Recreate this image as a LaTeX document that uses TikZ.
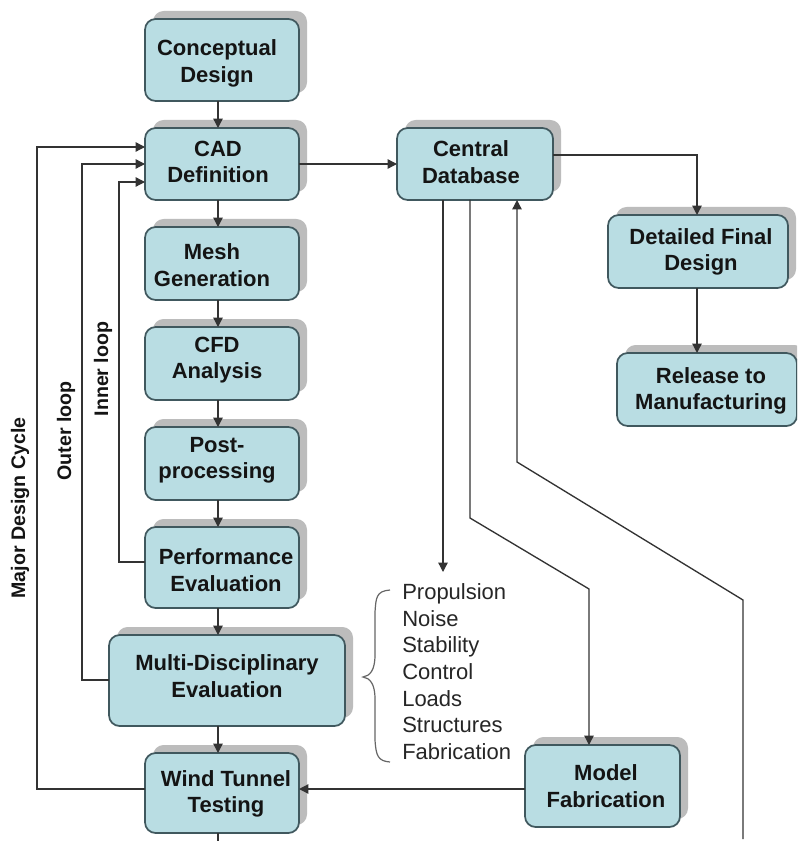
\documentclass[tikz,border=0pt]{standalone}
\usepackage{fontspec}
\setmainfont{Liberation Sans}
\usetikzlibrary{arrows.meta,calc}
\definecolor{boxfill}{HTML}{B9DDE3}
\definecolor{boxline}{HTML}{40585E}
\definecolor{shadowgrey}{HTML}{BCBCBC}
\definecolor{inkline}{HTML}{333333}
\tikzset{
  flowbox/.style={draw=boxline,fill=boxfill,line width=1.3pt,rounded corners=8pt,inner sep=0pt,outer sep=0pt},
  shadowbox/.style={fill=shadowgrey,rounded corners=8pt,inner sep=0pt,outer sep=0pt},
  boxtext/.style={font=\fontsize{16.5pt}{19.8pt}\selectfont\bfseries,align=center,text=black!92,inner sep=0pt},
  listtext/.style={font=\fontsize{16.5pt}{19.8pt}\selectfont,anchor=base west,text=black!85,inner sep=0pt},
  looptext/.style={font=\fontsize{14.7pt}{17pt}\selectfont\bfseries,rotate=90,text=black!92,inner sep=0pt},
  conn/.style={draw=inkline,line width=1pt},
  arrowed/.style={conn,-{Triangle[length=7pt,width=7pt]}},
}
% name, x1, y1, x2, y2, text x, text y, text
\newcommand{\flownode}[8]{%
  \node[shadowbox,minimum width={(#4-#2)*0.75pt},minimum height={(#5-#3)*0.75pt}] (#1s) at ({(#2+#4)/2+8},{(#3+#5)/2-8}) {};
  \node[flowbox,minimum width={(#4-#2)*0.75pt},minimum height={(#5-#3)*0.75pt}] (#1) at ({(#2+#4)/2},{(#3+#5)/2}) {};
  \node[boxtext] (#1t) at (#6,#7) {#8};
}
\begin{document}
\begin{tikzpicture}[x=0.75pt,y=-0.75pt]
\useasboundingbox (0,0) rectangle (797,841);
\fill[white] (0,0) rectangle (797,841);
\begin{scope}
\clip (0,0) rectangle (797,841);
\flownode{concept}{145}{19}{299}{101}{217}{63.5}{Conceptual\\Design}
\flownode{cad}{145}{128}{299}{200}{218}{162}{CAD\\Definition}
\flownode{mesh}{145}{227}{299}{300}{212}{265}{Mesh\\Generation}
\flownode{cfd}{145}{327}{299}{400}{217}{360}{CFD\\Analysis}
\flownode{post}{145}{427}{299}{500}{217}{460}{Post-\\processing}
\flownode{perf}{145}{527}{299}{608}{226}{570}{Performance\\Evaluation}
\flownode{multi}{109}{635}{345}{726}{227}{676}{Multi-Disciplinary\\Evaluation}
\flownode{wind}{145}{753}{299}{833}{226}{794}{Wind Tunnel\\Testing}
\flownode{central}{397}{128}{553}{200}{471}{162}{Central\\Database}
\flownode{detail}{608}{215}{788}{288}{701}{252}{Detailed Final\\Design}
\flownode{release}{617}{353}{797}{426}{711}{391}{Release to\\Manufacturing}
\flownode{model}{525}{745}{680}{827}{606}{786}{Model\\Fabrication}
\end{scope}
% reference coordinates
\coordinate (spine) at (218,0);
\coordinate (majorin) at (0,147);
\coordinate (outerin) at (0,164);
\coordinate (innerin) at (0,182);
\coordinate (majorx) at (37,0);
\coordinate (outerx) at (82,0);
\coordinate (innerx) at (119,0);
\coordinate (midy) at (0,164);
\coordinate (windy) at (0,789);
\coordinate (perfy) at (0,562);
\coordinate (multiy) at (0,680);
\coordinate (finalx) at (697,0);
\coordinate (centraly) at (0,155);
\coordinate (propx) at (443,0);
\coordinate (propend) at (443,572);
\coordinate (fabx) at (470,0);
\coordinate (fabbendA) at (470,518);
\coordinate (fabbendB) at (589,589);
\coordinate (retx) at (517,0);
\coordinate (retbendA) at (517,462);
\coordinate (retbendB) at (743,600);
\coordinate (retend) at (743,839);
\coordinate (stub) at (218,841);
% spine
\foreach \a/\b in {concept/cad,cad/mesh,mesh/cfd,cfd/post,post/perf,perf/multi,multi/wind}{
  \draw[arrowed] (\a.south -| spine) -- (\b.north -| spine);
}
\draw[conn] (wind.south -| spine) -- (stub);
% feedback loops
\draw[arrowed] (wind.west |- windy) -- (majorx |- windy) -- (majorx |- majorin) -- (cad.west |- majorin);
\draw[arrowed] (multi.west |- multiy) -- (outerx |- multiy) -- (outerx |- outerin) -- (cad.west |- outerin);
\draw[arrowed] (perf.west |- perfy) -- (innerx |- perfy) -- (innerx |- innerin) -- (cad.west |- innerin);
% database
\draw[arrowed] (cad.east |- midy) -- (central.west |- midy);
\draw[arrowed] (central.east |- centraly) -- (finalx |- centraly) -- (detail.north -| finalx);
\draw[arrowed] (detail.south -| finalx) -- (release.north -| finalx);
\draw[arrowed] (central.south -| propx) -- (propend);
\draw[arrowed] (central.south -| fabx) -- (fabbendA) -- (fabbendB) -- (model.north -| fabbendB);
\draw[arrowed] (retend) -- (retbendB) -- (retbendA) -- (central.south -| retx);
\draw[arrowed] (model.west |- windy) -- (wind.east |- windy);
% brace
\draw[draw=black!60,line width=0.9pt] (390,590) .. controls (376,591) and (376,598) .. (375,612)
  -- (375,655) .. controls (375,670) and (370,676) .. (363,677)
  .. controls (370,678) and (375,684) .. (375,699)
  -- (375,740) .. controls (376,756) and (378,761) .. (390,762);
% list
\node[listtext] (l1) at (402,599) {Propulsion};
\node[listtext] (l2) at (402,626) {Noise};
\node[listtext] (l3) at (402,652) {Stability};
\node[listtext] (l4) at (402,679) {Control};
\node[listtext] (l5) at (402,706) {Loads};
\node[listtext] (l6) at (402,732) {Structures};
\node[listtext] (l7) at (402,759) {Fabrication};
% loop labels
\node[looptext] (ml) at (20,508) {Major Design Cycle};
\node[looptext] (ol) at (66,431) {Outer loop};
\node[looptext] (il) at (103,369) {Inner loop};
\end{tikzpicture}
\end{document}
